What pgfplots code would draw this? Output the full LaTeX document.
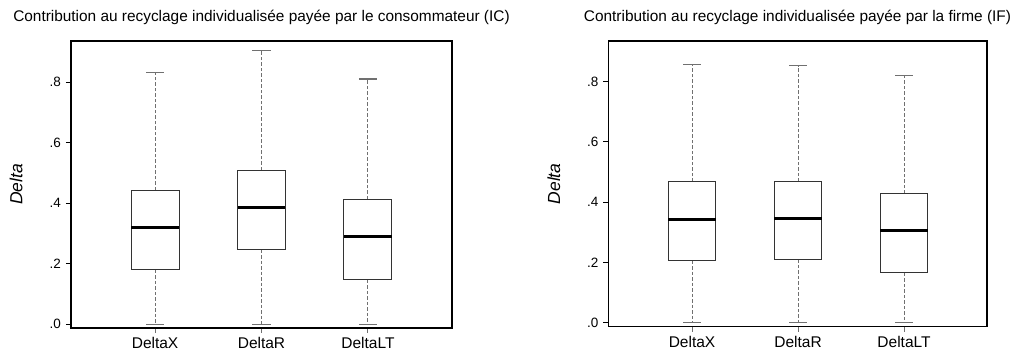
\documentclass[border=0pt]{standalone}
\usepackage{fontspec}
\setmainfont{Liberation Sans}
\usepackage{pgfplots}
\pgfplotsset{compat=1.18}
\usepgfplotslibrary{statistics}

\definecolor{boxline}{HTML}{333333}
\definecolor{whiskgray}{HTML}{707070}

% dashed whisker from the quartile (#1) to its end (#2), solid cap at the end
\pgfplotsset{
  boxplot/draw/whisker/.code 2 args={
    \draw[whiskgray, line width=1pt, dash pattern=on 3.5pt off 2pt]
      (boxplot cs:#1) -- (boxplot cs:#2);
    \draw[whiskgray, line width=1.1pt]
      (boxplot whisker cs:#2,0) -- (boxplot whisker cs:#2,1);
  },
}

\pgfplotsset{
  deltapanel/.style={
    scale only axis,
    anchor=south west,
    axis line style={black, line width=1.6pt},
    xtick={1,2,3},
    xticklabels={DeltaX,DeltaR,DeltaLT},
    ytick={0,0.2,0.4,0.6,0.8},
    yticklabels={.0,.2,.4,.6,.8},
    xtick pos=bottom, ytick pos=left,
    tick align=outside,
    major tick length=5pt,
    x tick style={whiskgray, line width=1pt},
    y tick style={black, line width=0.9pt},
    xticklabel style={font=\fontsize{15.5}{17}\selectfont, yshift=-1pt},
    yticklabel style={font=\fontsize{13.5}{15}\selectfont, xshift=-1.5pt},
    ylabel={Delta},
    every axis y label/.style={at={(axis description cs:-0.144,0.5)},
      rotate=90, anchor=center, font=\itshape\fontsize{17.5}{19}\selectfont},
    every axis title/.style={at={(axis description cs:0.5,1)}, anchor=base,
      yshift=19pt, font=\fontsize{15.4}{18}\selectfont},
    boxplot/draw direction=y,
    boxplot/box extend=0.45,
    boxplot/whisker extend=0.17,
    boxplot/every box/.style={draw=boxline, line width=1pt},
    boxplot/every median/.style={draw=black, line width=2.9pt},
  },
}

\begin{document}
\begin{tikzpicture}
\path[use as bounding box] (0pt,0pt) rectangle (1017pt,358pt);

% Consumer-paid contribution (IC)
\begin{axis}[deltapanel,
  at={(71pt,30pt)}, width=381pt, height=287pt,
  xmin=0.21, xmax=3.79, ymin=-0.0122, ymax=0.9365,
  title={Contribution au recyclage individualisée payée par le consommateur (IC)}]
\addplot[black, boxplot prepared={draw position=1,
  lower whisker=0, lower quartile=0.180, median=0.321,
  upper quartile=0.443, upper whisker=0.833}] coordinates {};
\addplot[black, boxplot prepared={draw position=2,
  lower whisker=0, lower quartile=0.247, median=0.385,
  upper quartile=0.509, upper whisker=0.904}] coordinates {};
\addplot[black, boxplot prepared={draw position=3,
  lower whisker=0, lower quartile=0.147, median=0.291,
  upper quartile=0.413, upper whisker=0.811}] coordinates {};
\end{axis}

% Firm-paid contribution (IF)
\begin{axis}[deltapanel,
  at={(608.3pt,31.3pt)}, width=378.4pt, height=285.7pt,
  xmin=0.21, xmax=3.78, ymin=-0.0133, ymax=0.935,
  title={Contribution au recyclage individualisée payée par la firme (IF)}]
\addplot[black, boxplot prepared={draw position=1,
  lower whisker=0, lower quartile=0.206, median=0.343,
  upper quartile=0.467, upper whisker=0.856}] coordinates {};
\addplot[black, boxplot prepared={draw position=2,
  lower whisker=0, lower quartile=0.210, median=0.347,
  upper quartile=0.468, upper whisker=0.853}] coordinates {};
\addplot[black, boxplot prepared={draw position=3,
  lower whisker=0, lower quartile=0.165, median=0.307,
  upper quartile=0.428, upper whisker=0.820}] coordinates {};
\end{axis}
\end{tikzpicture}
\end{document}
